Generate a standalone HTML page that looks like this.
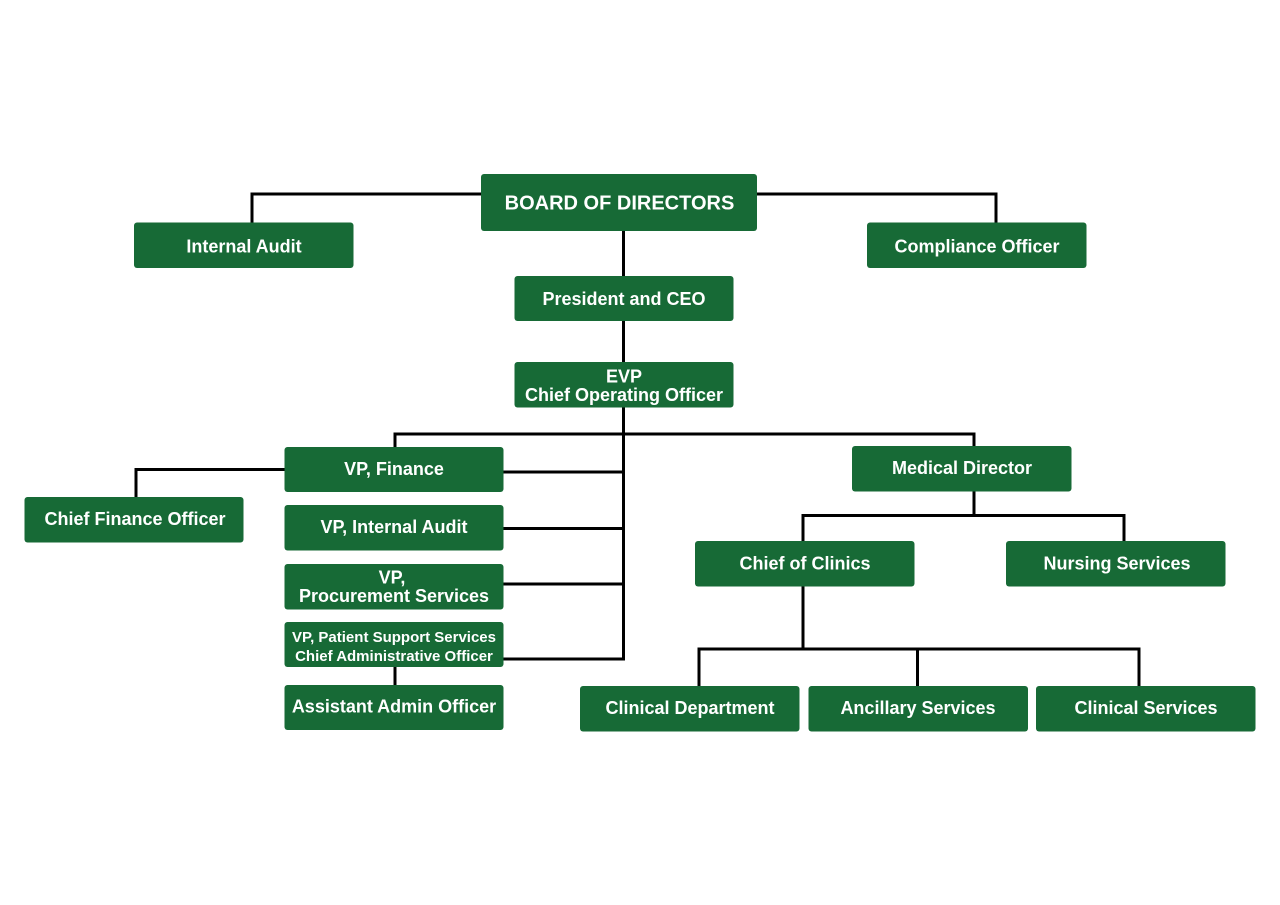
<!DOCTYPE html>
<html><head><meta charset="utf-8"><style>
html,body{margin:0;padding:0;background:#fff;}
svg{display:block;}
text{font-family:"Liberation Sans",Arial,sans-serif;font-weight:bold;fill:#fff;text-anchor:middle;}
</style></head><body>
<svg width="1280" height="905" viewBox="0 0 1280 905" xmlns="http://www.w3.org/2000/svg">
<g stroke="#000" stroke-width="3" fill="none" stroke-linecap="square">
  <!-- board to internal audit / compliance -->
  <polyline points="252,222 252,194 996,194 996,222"/>
  <line x1="623.5" y1="230" x2="623.5" y2="276"/>
  <line x1="623.5" y1="320" x2="623.5" y2="362"/>
  <!-- trunk -->
  <polyline points="623.5,407 623.5,659 503,659"/>
  <polyline points="395,447 395,434 974,434 974,446"/>
  <line x1="503" y1="472" x2="623.5" y2="472"/>
  <line x1="503" y1="528.5" x2="623.5" y2="528.5"/>
  <line x1="503" y1="584" x2="623.5" y2="584"/>
  <!-- CFO -->
  <polyline points="284,469.5 136,469.5 136,497"/>
  <!-- assistant admin -->
  <line x1="395" y1="666" x2="395" y2="685"/>
  <!-- medical director -->
  <line x1="974" y1="491" x2="974" y2="515.5"/>
  <polyline points="803,541 803,515.5 1124,515.5 1124,541"/>
  <!-- chief of clinics -->
  <line x1="803" y1="586" x2="803" y2="649"/>
  <polyline points="699,686 699,649 1139,649 1139,686"/>
  <line x1="917.5" y1="649" x2="917.5" y2="686"/>
</g>
<g fill="#176a36">
  <rect x="481" y="174" width="276" height="57" rx="3"/>
  <rect x="134" y="222.5" width="219.5" height="45.5" rx="3"/>
  <rect x="867" y="222.5" width="219.5" height="45.5" rx="3"/>
  <rect x="514.5" y="276" width="219" height="45" rx="3"/>
  <rect x="514.5" y="362" width="219" height="45.5" rx="3"/>
  <rect x="284.5" y="447" width="219" height="45" rx="3"/>
  <rect x="24.5" y="497" width="219" height="45.5" rx="3"/>
  <rect x="284.5" y="505" width="219" height="45.5" rx="3"/>
  <rect x="284.5" y="564" width="219" height="45.5" rx="3"/>
  <rect x="284.5" y="622" width="219" height="45" rx="3"/>
  <rect x="284.5" y="685" width="219" height="45" rx="3"/>
  <rect x="852" y="446" width="219.5" height="45.5" rx="3"/>
  <rect x="695" y="541" width="219.5" height="45.5" rx="3"/>
  <rect x="1006" y="541" width="219.5" height="45.5" rx="3"/>
  <rect x="580" y="686" width="219.5" height="45.5" rx="3"/>
  <rect x="808.5" y="686" width="219.5" height="45.5" rx="3"/>
  <rect x="1036" y="686" width="219.5" height="45.5" rx="3"/>
</g>
<text x="619.5" y="209.5" font-size="20">BOARD OF DIRECTORS</text>
<text x="244" y="252.5" font-size="18">Internal Audit</text>
<text x="977" y="252.5" font-size="18">Compliance Officer</text>
<text x="624" y="305" font-size="18">President and CEO</text>
<text x="624" y="382.5" font-size="18">EVP</text>
<text x="624" y="401" font-size="18">Chief Operating Officer</text>
<text x="394" y="475" font-size="18">VP, Finance</text>
<text x="135" y="525" font-size="18">Chief Finance Officer</text>
<text x="394" y="533" font-size="18">VP, Internal Audit</text>
<text x="392" y="583.5" font-size="18">VP,</text>
<text x="394" y="602" font-size="18">Procurement Services</text>
<text x="394" y="642" font-size="15">VP, Patient Support Services</text>
<text x="394" y="661" font-size="15">Chief Administrative Officer</text>
<text x="394" y="712.5" font-size="18">Assistant Admin Officer</text>
<text x="962" y="474" font-size="18">Medical Director</text>
<text x="805" y="569.5" font-size="18">Chief of Clinics</text>
<text x="1117" y="569.5" font-size="18">Nursing Services</text>
<text x="690" y="714" font-size="18">Clinical Department</text>
<text x="918" y="714" font-size="18">Ancillary Services</text>
<text x="1146" y="714" font-size="18">Clinical Services</text>
</svg>
</body></html>
